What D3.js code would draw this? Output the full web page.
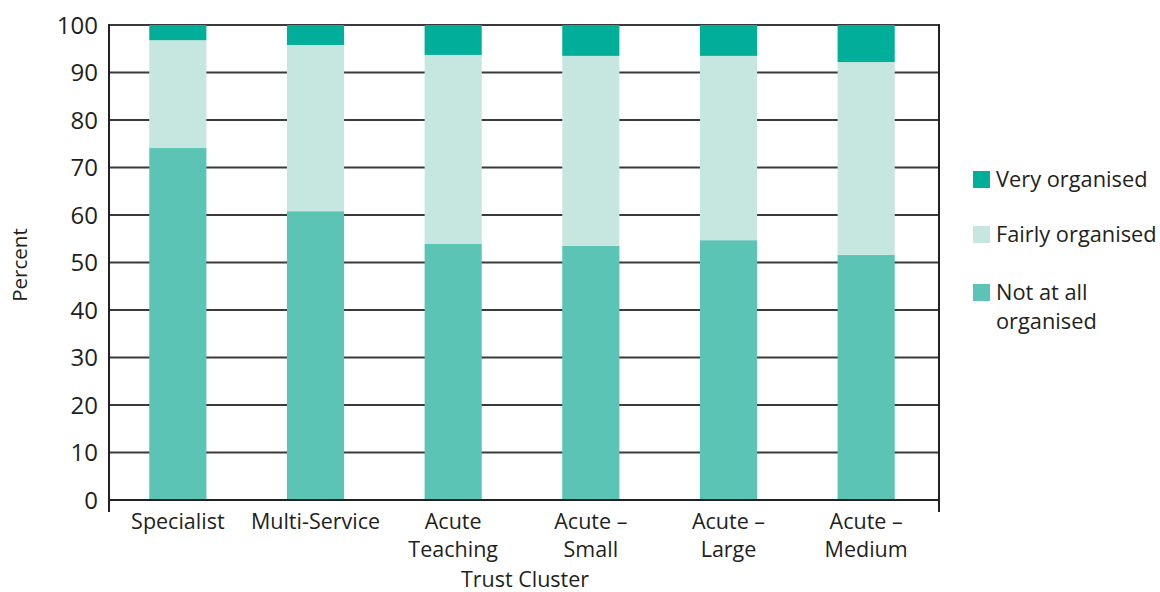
<!DOCTYPE html>
<html><head><meta charset="utf-8">
<script src="https://cdn.jsdelivr.net/npm/d3@7"></script>
<style>body{margin:0;background:#fff}text{font-family:"Open Sans",Lato,sans-serif;fill:#231f20}</style>
</head><body>
<svg id="c" width="1160" height="592"></svg>
<script>
const categories = [["Specialist"],["Multi-Service"],["Acute","Teaching"],["Acute –","Small"],["Acute –","Large"],["Acute –","Medium"]];
const notAtAll = [74.1, 60.8, 53.9, 53.5, 54.7, 51.6];
const fairly   = [22.7, 35.0, 39.8, 40.0, 38.8, 40.6];
const very     = [3.2, 4.2, 6.3, 6.5, 6.5, 7.8];
const seriesNames = ["Not at all organised","Fairly organised","Very organised"];
const colors = ["#5bc4b4","#c6e7e0","#00ae9a"];
const yTicks = [0,10,20,30,40,50,60,70,80,90,100];

const svg = d3.select("#c");
const L=109,R=939,T=25,B=500;
const x = d3.scaleBand().domain(d3.range(categories.length)).range([L,935]).paddingInner(0.585).paddingOuter(0.2925);
const y = d3.scaleLinear().domain([0,100]).range([B,T]);

svg.append("g").selectAll("line").data(yTicks).join("line")
  .attr("x1",L).attr("x2",R).attr("y1",d=>y(d)).attr("y2",d=>y(d))
  .attr("stroke","#3a3a3a").attr("stroke-width",2);

const rows = categories.map((c,i)=>({i, not:notAtAll[i], fairly:fairly[i], very:very[i]}));
const stack = d3.stack().keys(["not","fairly","very"])(rows);
svg.append("g").selectAll("g").data(stack).join("g").attr("fill",(d,k)=>colors[k])
  .selectAll("rect").data(d=>d).join("rect")
  .attr("x",d=>x(d.data.i)).attr("width",x.bandwidth())
  .attr("y",d=>y(d[1])).attr("height",d=>y(d[0])-y(d[1]));

svg.append("line").attr("x1",L).attr("x2",L).attr("y1",T-1).attr("y2",512).attr("stroke","#222").attr("stroke-width",2);
svg.append("line").attr("x1",R).attr("x2",R).attr("y1",T-1).attr("y2",512).attr("stroke","#222").attr("stroke-width",2);
svg.append("line").attr("x1",L).attr("x2",R).attr("y1",B).attr("y2",B).attr("stroke","#222").attr("stroke-width",2);

svg.append("g").selectAll("text").data(yTicks).join("text")
  .attr("x",98).attr("y",d=>y(d)+8.5).attr("text-anchor","end").attr("font-size",24).text(d=>d);

svg.append("text").attr("transform","translate(27,265) rotate(-90)").attr("text-anchor","middle").attr("font-size",20.5).text("Percent");

const xl = svg.append("g").selectAll("text").data(categories).join("text")
  .attr("text-anchor","middle").attr("font-size",21.5)
  .attr("transform",(d,i)=>`translate(${x(i)+x.bandwidth()/2},529)`);
xl.selectAll("tspan").data(d=>d).join("tspan").attr("x",0).attr("dy",(d,j)=>j?28:0).text(d=>d);

svg.append("text").attr("x",525).attr("y",587).attr("text-anchor","middle").attr("font-size",21.5).text("Trust Cluster");

const leg = [{k:2,y:171,lines:["Very organised"]},{k:1,y:226,lines:["Fairly organised"]},{k:0,y:284,lines:["Not at all","organised"]}];
const lg = svg.append("g").selectAll("g").data(leg).join("g");
lg.append("rect").attr("x",973).attr("y",d=>d.y).attr("width",17).attr("height",17).attr("fill",d=>colors[d.k]);
lg.append("text").attr("font-size",21.8).attr("transform",d=>`translate(996,${d.y+16})`)
  .selectAll("tspan").data(d=>d.lines).join("tspan").attr("x",0).attr("dy",(d,j)=>j?29:0).text(d=>d);
</script>
</body></html>
